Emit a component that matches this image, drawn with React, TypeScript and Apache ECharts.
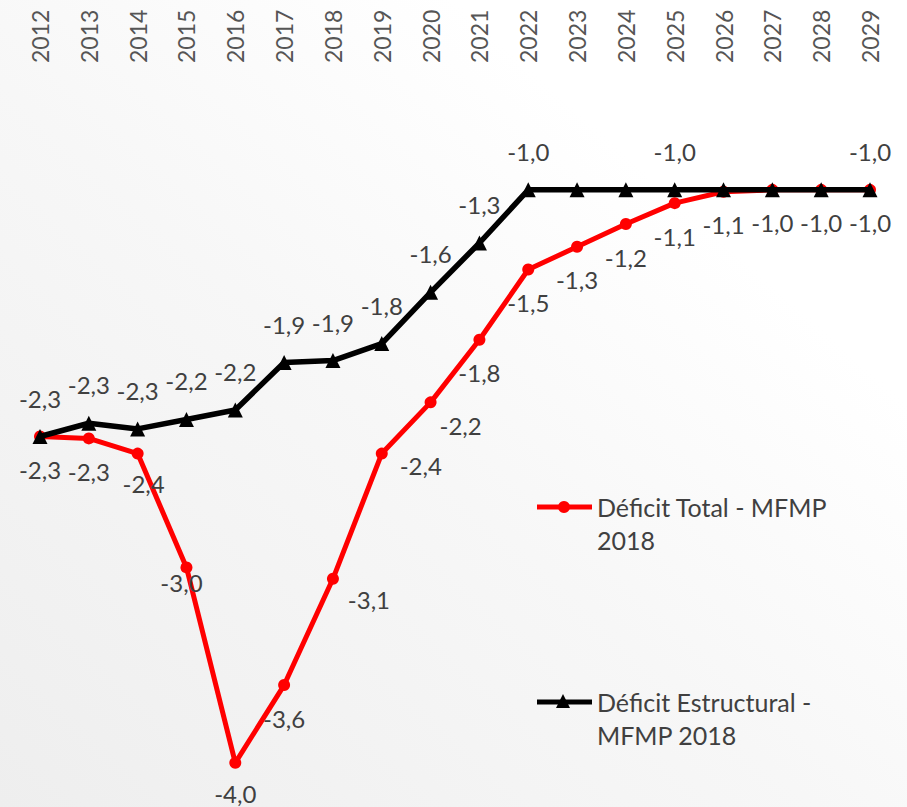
import React, { useEffect, useRef } from "react";
import * as echarts from "echarts";

const years = ["2012","2013","2014","2015","2016","2017","2018","2019","2020","2021","2022","2023","2024","2025","2026","2027","2028","2029"];

const deficitTotal = [-2.30,-2.31,-2.39,-2.99,-4.02,-3.61,-3.05,-2.39,-2.12,-1.79,-1.42,-1.30,-1.18,-1.07,-1.01,-1.0,-1.0,-1.0];
const deficitTotalLabels = ["-2,3","-2,3","-2,4","-3,0","-4,0","-3,6","-3,1","-2,4","-2,2","-1,8","-1,5","-1,3","-1,2","-1,1","-1,1","-1,0","-1,0","-1,0"];

const deficitEstructural = [-2.30,-2.23,-2.26,-2.21,-2.16,-1.91,-1.90,-1.81,-1.54,-1.28,-1.0,-1.0,-1.0,-1.0,-1.0,-1.0,-1.0,-1.0];
const deficitEstructuralLabels = ["-2,3","-2,3","-2,3","-2,2","-2,2","-1,9","-1,9","-1,8","-1,6","-1,3","-1,0","","","-1,0","","","","-1,0"];

const seriesNames = ["Déficit Total - MFMP 2018", "Déficit Estructural - MFMP 2018"];

// label nudges (layout only) for the red series, by index
const redLabelShift: Record<number, [number, number]> = {
  2: [6, -3],
  3: [-5, -18],
  4: [0, -2],
  6: [36, -12],
  7: [39, -21],
  8: [30, -10],
};

const FONT = "Lato, 'Open Sans', sans-serif";
const TEXT = "#404040";

export default function App() {
  const ref = useRef<HTMLDivElement>(null);
  useEffect(() => {
    if (!ref.current) return;
    const chart = echarts.init(ref.current, undefined, { renderer: "svg" });
    const option: any = {
      animation: false,
      backgroundColor: "#ffffff",
      textStyle: { fontFamily: FONT },
      grid: { left: 40, right: 37, top: 95, bottom: 10 },
      xAxis: {
        type: "category",
        position: "top",
        data: years,
        boundaryGap: false,
        axisLine: { show: false },
        axisTick: { show: false },
        splitLine: { show: false },
        axisLabel: {
          rotate: -90,
          margin: 32,
          fontSize: 23,
          color: "#555555",
          fontFamily: FONT,
          interval: 0,
        },
      },
      yAxis: {
        type: "value",
        min: -4.2,
        max: -0.5,
        show: false,
      },
      graphic: [
        {
          type: "rect",
          z: -100,
          silent: true,
          shape: { x: 0, y: 0, width: 907, height: 807 },
          style: {
            fill: {
              type: "linear",
              x: 0, y: 1, x2: 1, y2: 0,
              colorStops: [
                { offset: 0, color: "#eeeeee" },
                { offset: 0.45, color: "#f7f7f7" },
                { offset: 0.75, color: "#ffffff" },
                { offset: 1, color: "#ffffff" },
              ],
            },
          },
        },
        // legend: red
        {
          type: "line",
          shape: { x1: 537, y1: 507, x2: 592, y2: 507 },
          style: { stroke: "#ff0000", lineWidth: 5 },
        },
        {
          type: "circle",
          shape: { cx: 564, cy: 507, r: 6 },
          style: { fill: "#ff0000" },
        },
        {
          type: "text",
          x: 597,
          y: 490.5,
          style: {
            text: "Déficit Total - MFMP\n2018",
            fontSize: 25,
            lineHeight: 33,
            fill: TEXT,
            fontFamily: FONT,
            verticalAlign: "top",
            align: "left",
          },
        },
        // legend: black
        {
          type: "line",
          shape: { x1: 537, y1: 702, x2: 592, y2: 702 },
          style: { stroke: "#000000", lineWidth: 5 },
        },
        {
          type: "polygon",
          shape: { points: [[563, 694], [556, 708], [570, 708]] },
          style: { fill: "#000000" },
        },
        {
          type: "text",
          x: 597,
          y: 685.5,
          style: {
            text: "Déficit Estructural -\nMFMP 2018",
            fontSize: 25,
            lineHeight: 33,
            fill: TEXT,
            fontFamily: FONT,
            verticalAlign: "top",
            align: "left",
          },
        },
      ],
      series: [
        {
          name: seriesNames[0],
          type: "line",
          data: deficitTotal.map((v, i) => ({
            value: v,
            label: redLabelShift[i] ? { offset: redLabelShift[i] } : undefined,
          })),
          color: "#ff0000",
          lineStyle: { width: 5, color: "#ff0000" },
          itemStyle: { color: "#ff0000" },
          symbol: "circle",
          symbolSize: 12,
          z: 2,
          label: {
            show: true,
            position: "bottom",
            distance: 15,
            fontSize: 24,
            color: TEXT,
            fontFamily: FONT,
            formatter: (p: any) => deficitTotalLabels[p.dataIndex],
          },
        },
        {
          name: seriesNames[1],
          type: "line",
          data: deficitEstructural,
          color: "#000000",
          lineStyle: { width: 5.5, color: "#000000" },
          itemStyle: { color: "#000000" },
          symbol: "triangle",
          symbolSize: 15,
          z: 3,
          label: {
            show: true,
            position: "top",
            distance: 19,
            fontSize: 24,
            color: TEXT,
            fontFamily: FONT,
            formatter: (p: any) => deficitEstructuralLabels[p.dataIndex],
          },
        },
      ],
    };
    chart.setOption(option);
    return () => chart.dispose();
  }, []);
  return (
    <div
      ref={ref}
      style={{ position: "fixed", left: 0, top: 0, width: 907, height: 807 }}
    />
  );
}
